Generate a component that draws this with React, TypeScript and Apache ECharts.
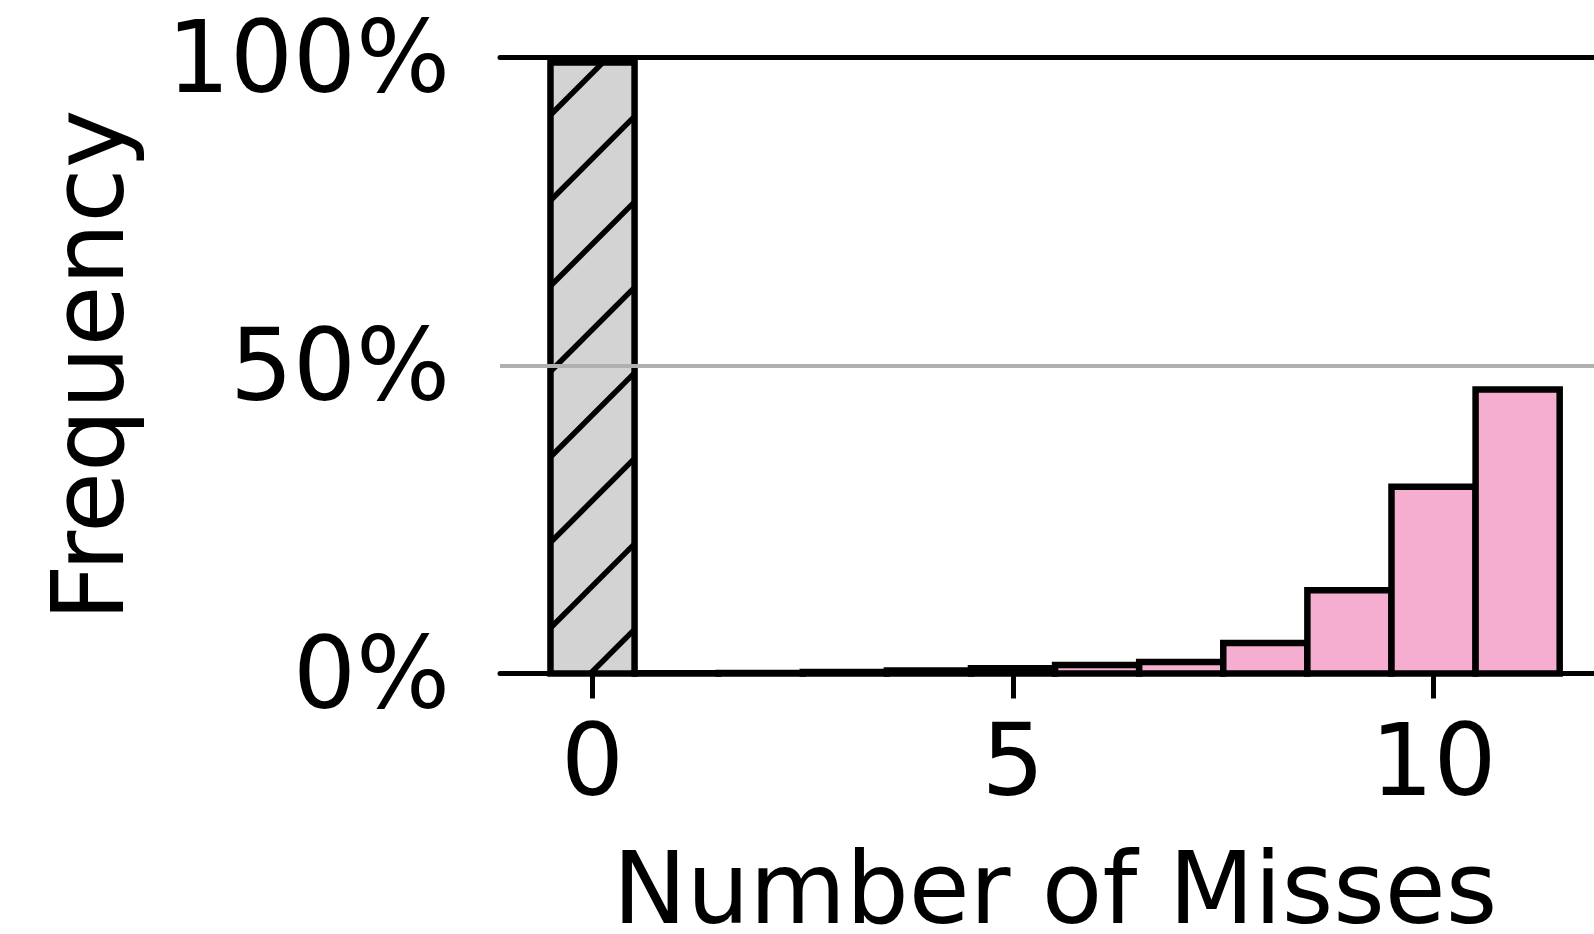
import React, { useEffect, useRef } from "react";
import * as echarts from "echarts";

// Number of misses (bin centres)
const grayBins = [0];
const grayFreq = [99.2];
const pinkBins = [1, 2, 3, 4, 5, 6, 7, 8, 9, 10, 11];
const pinkFreq = [0.05, 0.1, 0.25, 0.5, 0.85, 1.4, 1.85, 4.95, 13.5, 30.3, 46.1];

const xTickValues = [0, 5, 10];
const yTickValues = [0, 50, 100];
const xMin = -1.1;
const xMax = 11.908; // visible part of the (cropped) axis

const FONT = "DejaVu Sans";
const FS = 99;

function makeRender(fill: string, hatch: boolean) {
  return (params: any, api: any) => {
    const x = api.value(0);
    const y = api.value(1);
    const tl = api.coord([x - 0.5, y]);
    const br = api.coord([x + 0.5, 0]);
    const x0 = tl[0], y0 = tl[1], x1 = br[0], y1 = br[1];
    const w = x1 - x0;
    const h = y1 - y0;
    const children: any[] = [
      { type: "rect", shape: { x: x0, y: y0, width: w, height: h }, style: { fill, stroke: "none" } },
    ];
    if (hatch) {
      const spacing = 85.5;
      const k = 1;
      const ref = api.coord([0, 50])[1] + 6;
      for (let n = -12; n <= 12; n++) {
        const c = ref + n * spacing;
        const xa = Math.max(x0, x0 + (c - y1) / k);
        const xb = Math.min(x1, x0 + (c - y0) / k);
        if (xb > xa) {
          children.push({
            type: "line",
            shape: { x1: xa, y1: c - (xa - x0) * k, x2: xb, y2: c - (xb - x0) * k },
            style: { stroke: "#000", lineWidth: 5.5 },
          });
        }
      }
    }
    children.push({
      type: "rect",
      shape: { x: x0, y: y0, width: w, height: h },
      style: { fill: "none", stroke: "#000", lineWidth: 6.5 },
    });
    return { type: "group", children };
  };
}

export default function App() {
  const ref = useRef<HTMLDivElement>(null);
  useEffect(() => {
    if (!ref.current) return;
    const chart = echarts.init(ref.current, null, { renderer: "svg" });
    chart.setOption({
      animation: false,
      backgroundColor: "#fff",
      grid: {
        left: 500,
        top: 57.5,
        right: 0,
        height: 616,
        containLabel: false,
        outerBoundsMode: "none",
      },
      xAxis: [
        {
          type: "value",
          min: xMin,
          max: xMax,
          position: "bottom",
          name: "Number of Misses",
          nameLocation: "middle",
          nameGap: 175,
          nameTextStyle: {
            fontFamily: FONT,
            fontSize: 99,
            lineHeight: 80,
            color: "#000",
            padding: [0, 0, 0, 16],
          },
          axisLine: { show: true, onZero: false, lineStyle: { color: "#000", width: 5 } },
          axisTick: { show: true, length: 25, customValues: xTickValues, lineStyle: { color: "#000", width: 5 } },
          axisLabel: {
            customValues: xTickValues,
            margin: 37,
            fontFamily: FONT,
            fontSize: FS,
            color: "#000",
          },
          splitLine: { show: false },
        },
        {
          type: "value",
          min: xMin,
          max: xMax,
          position: "top",
          axisLine: { show: true, onZero: false, lineStyle: { color: "#000", width: 5 } },
          axisTick: { show: false },
          axisLabel: { show: false },
          splitLine: { show: false },
        },
      ],
      yAxis: {
        type: "value",
        min: 0,
        max: 100,
        interval: 50,
        name: "Frequency",
        nameLocation: "middle",
        nameGap: 362,
        nameTextStyle: { fontFamily: FONT, fontSize: 99, color: "#000" },
        axisLine: { show: true, lineStyle: { color: "#000", width: 5 } },
        axisTick: { show: true, length: 25, customValues: yTickValues, lineStyle: { color: "#000", width: 5 } },
        axisLabel: {
          margin: 50,
          fontFamily: FONT,
          fontSize: FS,
          color: "#000",
          padding: [17, 0, 0, 0],
          formatter: (v: number) => `${v}%`,
        },
        splitLine: { show: false },
      },
      series: [
        {
          type: "custom",
          name: "baseline",
          xAxisIndex: 0,
          yAxisIndex: 0,
          renderItem: makeRender("#d3d3d3", true),
          data: grayBins.map((b, i) => [b, grayFreq[i]]),
          markLine: {
            silent: true,
            symbol: "none",
            label: { show: false },
            lineStyle: { color: "#b0b0b0", width: 4, type: "solid" },
            data: [{ yAxis: 50 }],
            z: 10,
          },
          z: 2,
        },
        {
          type: "custom",
          name: "misses",
          xAxisIndex: 0,
          yAxisIndex: 0,
          renderItem: makeRender("#f6aed0", false),
          data: pinkBins.map((b, i) => [b, pinkFreq[i]]),
          z: 2,
        },
      ],
    });
    return () => chart.dispose();
  }, []);
  return (
    <div
      ref={ref}
      style={{ position: "fixed", left: 0, top: 0, width: 1594, height: 934, background: "#fff" }}
    />
  );
}
